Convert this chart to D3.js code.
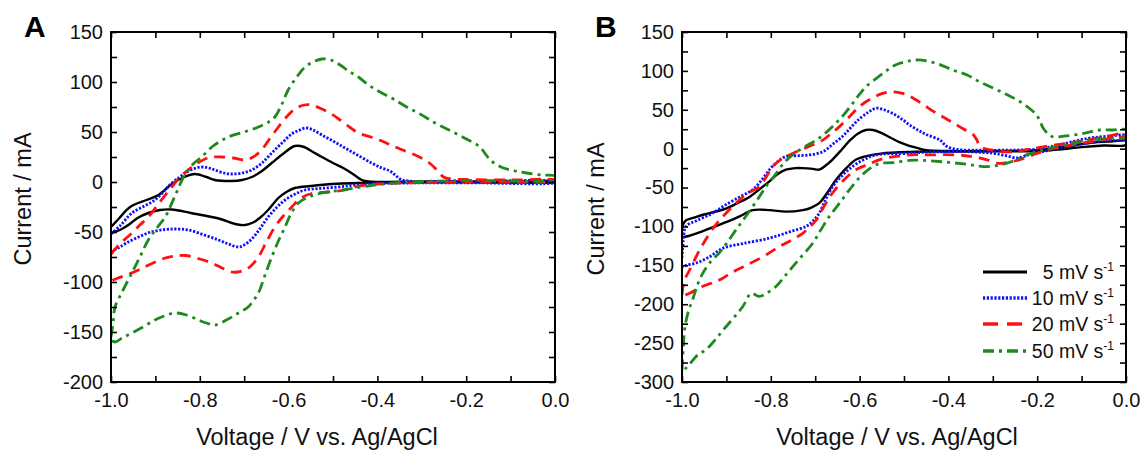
<!DOCTYPE html>
<html lang="en">
    <head>
    <meta charset="utf-8">
    <title>Cyclic voltammetry - scan rates</title>
    <script src="https://d3js.org/d3.v7.min.js"></script>
    <style type="text/css">
        body { margin: 0; background: #fff; }
        text { font-family: "Liberation Sans", Arial, sans-serif; fill: #111; }
        .panel { font-size: 30px; font-weight: bold; fill: #000; }
        .tick text { font-size: 20px; }
        .title { font-size: 23.5px; }
        .leg { font-size: 19.5px; }
    </style>
    </head>
    <body>
        <script type="text/javascript">

        //each curve is one CV loop: forward sweep -1.0 -> 0.0, then back to -1.0
        //values are [voltage (V), current (mA)]

        //panel A
        const A_5 = [[-1.0,-45],[-0.985,-38],[-0.957,-25],[-0.92,-18],[-0.893,-13],[-0.863,-2],[-0.835,5],[-0.811,8],[-0.785,5],[-0.766,2],[-0.728,1],[-0.705,2],[-0.683,5],[-0.66,11],[-0.638,19],[-0.61,29],[-0.586,36],[-0.565,35],[-0.545,30],[-0.525,25],[-0.5,19],[-0.473,13],[-0.452,7],[-0.435,2],[-0.42,0.5],[-0.3,0.5],[-0.1,0.5],[0,0.5],
            [0,0],[-0.2,-0.2],[-0.4,-0.5],[-0.5,-2],[-0.55,-4],[-0.586,-6],[-0.605,-10],[-0.623,-16],[-0.646,-28],[-0.665,-36],[-0.68,-40.5],[-0.698,-43],[-0.715,-42.5],[-0.728,-41],[-0.75,-37.5],[-0.773,-35],[-0.82,-31],[-0.863,-27.5],[-0.89,-28],[-0.916,-31],[-0.94,-36],[-0.961,-43],[-0.98,-48],[-1.0,-51]];

        const A_10 = [[-1.0,-52],[-0.98,-44],[-0.953,-31],[-0.925,-24],[-0.901,-18],[-0.88,-9],[-0.863,-1],[-0.845,5],[-0.833,9],[-0.815,13],[-0.796,15],[-0.78,14],[-0.766,12],[-0.745,9],[-0.728,8],[-0.705,9],[-0.683,12],[-0.66,19],[-0.638,29],[-0.615,39],[-0.593,48],[-0.575,52],[-0.56,54],[-0.545,52],[-0.525,47],[-0.5,41],[-0.473,34],[-0.445,27],[-0.413,19],[-0.39,14],[-0.372,11],[-0.36,7],[-0.349,3],[-0.33,1],[-0.2,0.5],[0,0.5],
            [0,-0.5],[-0.2,-0.8],[-0.4,-1.5],[-0.45,-3],[-0.488,-5],[-0.53,-6.5],[-0.563,-8],[-0.585,-12],[-0.608,-18],[-0.628,-26],[-0.646,-35],[-0.665,-47],[-0.683,-57],[-0.7,-63],[-0.713,-65],[-0.735,-62],[-0.758,-58],[-0.79,-53],[-0.826,-48],[-0.855,-47],[-0.878,-47.5],[-0.91,-50],[-0.938,-55],[-0.965,-61],[-0.984,-66],[-1.0,-69]];

        const A_20 = [[-1.0,-72],[-0.98,-62],[-0.953,-51],[-0.935,-43],[-0.916,-35],[-0.89,-20],[-0.863,-5],[-0.845,5],[-0.826,12],[-0.808,18],[-0.788,23],[-0.77,25],[-0.751,25],[-0.725,24],[-0.698,22],[-0.68,25],[-0.661,32],[-0.643,43],[-0.623,55],[-0.605,65],[-0.586,73],[-0.565,77],[-0.548,77],[-0.525,73],[-0.503,68],[-0.484,62],[-0.463,55],[-0.443,49],[-0.415,45],[-0.39,41],[-0.37,37],[-0.349,33],[-0.32,28],[-0.297,23],[-0.28,18],[-0.266,12],[-0.251,5],[-0.235,3],[-0.2,2.5],[-0.1,2],[0,2],
            [0,1],[-0.2,0],[-0.4,-2],[-0.45,-5],[-0.473,-8],[-0.51,-10],[-0.548,-11.5],[-0.572,-16],[-0.593,-25],[-0.612,-34],[-0.631,-45],[-0.65,-60],[-0.668,-75],[-0.685,-84],[-0.698,-88],[-0.715,-90],[-0.728,-90],[-0.75,-86],[-0.773,-81],[-0.8,-77],[-0.833,-73.5],[-0.855,-74],[-0.878,-76],[-0.91,-82],[-0.938,-88],[-0.965,-93],[-0.984,-96],[-1.0,-99]];

        const A_50 = [[-1.0,-155],[-0.995,-140],[-0.991,-125],[-0.975,-110],[-0.953,-91],[-0.935,-75],[-0.916,-58],[-0.895,-45],[-0.878,-35],[-0.855,-13],[-0.833,8],[-0.815,18],[-0.796,25],[-0.77,36],[-0.736,45],[-0.7,50],[-0.668,55],[-0.645,60],[-0.631,65],[-0.615,78],[-0.601,92],[-0.58,106],[-0.563,115],[-0.545,120],[-0.525,123],[-0.505,122],[-0.484,117],[-0.465,111],[-0.443,105],[-0.42,97],[-0.394,90],[-0.364,83],[-0.334,75],[-0.304,68],[-0.274,60],[-0.248,54],[-0.221,48],[-0.195,42],[-0.169,35],[-0.155,27],[-0.146,22],[-0.13,17],[-0.116,14],[-0.09,11],[-0.064,9],[-0.03,7],[0,6],
            [0,3],[-0.2,1.5],[-0.35,-0.5],[-0.428,-4.5],[-0.48,-8],[-0.525,-11],[-0.555,-15],[-0.578,-21],[-0.595,-32],[-0.608,-45],[-0.622,-58],[-0.638,-75],[-0.653,-93],[-0.668,-111],[-0.68,-119],[-0.691,-125],[-0.713,-131],[-0.74,-138],[-0.766,-143],[-0.785,-141],[-0.803,-138],[-0.83,-133],[-0.856,-131],[-0.88,-134],[-0.901,-138],[-0.928,-145],[-0.953,-151],[-0.975,-156],[-0.991,-160],[-1.0,-158]];

        //panel B
        const B_5 = [[-1.0,-110],[-0.998,-98],[-0.991,-92],[-0.975,-89],[-0.953,-85],[-0.925,-81],[-0.901,-77],[-0.875,-70],[-0.848,-62],[-0.825,-52],[-0.803,-42],[-0.785,-33],[-0.766,-27],[-0.745,-25],[-0.728,-25],[-0.705,-26],[-0.691,-27],[-0.675,-21],[-0.661,-14],[-0.64,-1],[-0.623,10],[-0.605,19],[-0.586,24],[-0.57,24],[-0.554,21],[-0.53,14],[-0.509,8],[-0.49,4],[-0.471,1],[-0.45,-2],[-0.4,-3],[-0.3,-3],[-0.2,-2],[-0.149,2],[-0.11,5],[-0.074,8],[-0.04,9],[0,10],
            [0,5],[-0.05,4],[-0.1,2],[-0.15,-1],[-0.2,-3],[-0.3,-3.5],[-0.4,-3.8],[-0.473,-4],[-0.548,-6],[-0.58,-9],[-0.608,-14],[-0.63,-25],[-0.653,-40],[-0.672,-56],[-0.691,-70],[-0.71,-76],[-0.728,-79],[-0.766,-81],[-0.803,-79],[-0.841,-79],[-0.863,-85],[-0.885,-91],[-0.908,-96],[-0.93,-101],[-0.953,-106],[-0.983,-112],[-1.0,-114]];

        const B_10 = [[-1.0,-140],[-0.997,-118],[-0.991,-100],[-0.965,-92],[-0.938,-85],[-0.92,-79],[-0.901,-72],[-0.87,-62],[-0.841,-53],[-0.82,-40],[-0.803,-27],[-0.785,-17],[-0.766,-10],[-0.74,-9],[-0.713,-8],[-0.683,-4],[-0.66,6],[-0.638,16],[-0.62,27],[-0.601,38],[-0.58,47],[-0.563,52],[-0.545,50],[-0.525,45],[-0.505,38],[-0.486,30],[-0.466,23],[-0.449,18],[-0.419,11],[-0.404,3],[-0.38,-1],[-0.33,-2],[-0.28,-2],[-0.2,-0.5],[-0.149,5],[-0.089,13],[-0.04,16],[0,17],
            [0,12],[-0.05,10],[-0.1,6],[-0.149,1],[-0.18,-3],[-0.209,-6],[-0.23,-10],[-0.246,-12],[-0.27,-9],[-0.299,-6],[-0.35,-4],[-0.45,-4.5],[-0.488,-6],[-0.563,-8],[-0.59,-14],[-0.616,-23],[-0.64,-35],[-0.661,-49],[-0.677,-66],[-0.691,-83],[-0.705,-93],[-0.721,-100],[-0.758,-107],[-0.803,-115],[-0.863,-122],[-0.908,-128],[-0.938,-139],[-0.968,-147],[-0.991,-150],[-1.0,-152]];

        const B_20 = [[-1.0,-188],[-0.995,-170],[-0.983,-156],[-0.96,-130],[-0.938,-109],[-0.92,-95],[-0.901,-83],[-0.88,-71],[-0.863,-62],[-0.845,-55],[-0.826,-49],[-0.81,-36],[-0.796,-23],[-0.775,-13],[-0.758,-8],[-0.735,-2],[-0.713,3],[-0.683,11],[-0.665,19],[-0.646,28],[-0.623,41],[-0.601,54],[-0.575,64],[-0.548,71],[-0.524,73],[-0.503,71],[-0.486,67],[-0.46,58],[-0.434,48],[-0.41,40],[-0.389,33],[-0.365,25],[-0.344,18],[-0.335,10],[-0.329,3],[-0.3,-2],[-0.254,-4],[-0.22,-1],[-0.18,3],[-0.13,7],[-0.089,11],[-0.04,16],[0,20],
            [0,17],[-0.05,12],[-0.089,8],[-0.14,3],[-0.18,-2],[-0.21,-8],[-0.239,-14],[-0.26,-17],[-0.284,-19],[-0.315,-14],[-0.35,-10],[-0.383,-8],[-0.45,-8],[-0.486,-8],[-0.548,-13],[-0.58,-20],[-0.608,-27],[-0.635,-40],[-0.661,-57],[-0.68,-74],[-0.698,-92],[-0.715,-102],[-0.728,-109],[-0.755,-118],[-0.781,-126],[-0.818,-139],[-0.863,-152],[-0.89,-160],[-0.916,-169],[-0.953,-177],[-0.983,-186],[-1.0,-190]];

        const B_50 = [[-1.0,-285],[-0.997,-255],[-0.993,-228],[-0.985,-208],[-0.976,-194],[-0.965,-175],[-0.953,-160],[-0.935,-145],[-0.916,-134],[-0.9,-122],[-0.878,-104],[-0.85,-82],[-0.826,-62],[-0.81,-48],[-0.788,-32],[-0.77,-18],[-0.751,-8],[-0.725,2],[-0.698,11],[-0.675,21],[-0.653,33],[-0.635,44],[-0.616,58],[-0.6,70],[-0.585,80],[-0.563,90],[-0.54,100],[-0.518,108],[-0.495,112],[-0.473,114],[-0.45,113],[-0.419,108],[-0.39,101],[-0.359,95],[-0.33,86],[-0.299,78],[-0.27,70],[-0.246,63],[-0.22,53],[-0.201,43],[-0.192,33],[-0.186,26],[-0.175,19],[-0.164,15],[-0.14,16],[-0.112,18],[-0.085,21],[-0.059,24],[-0.03,24],[0,24],
            [0,15],[-0.04,13],[-0.089,11],[-0.125,6],[-0.164,2],[-0.195,-3],[-0.224,-8],[-0.25,-15],[-0.284,-21],[-0.321,-23],[-0.36,-20],[-0.411,-17],[-0.458,-15],[-0.486,-15],[-0.525,-18],[-0.554,-19],[-0.578,-26],[-0.6,-37],[-0.623,-53],[-0.645,-70],[-0.668,-87],[-0.688,-105],[-0.706,-122],[-0.73,-138],[-0.751,-152],[-0.77,-165],[-0.788,-177],[-0.81,-186],[-0.826,-190],[-0.844,-186],[-0.863,-203],[-0.88,-215],[-0.901,-229],[-0.92,-242],[-0.938,-254],[-0.955,-262],[-0.968,-267],[-0.98,-275],[-0.991,-282],[-1.0,-290]];

        //series names / legend labels (scan rates)
        const rates = ["5", "10", "20", "50"];
        const xLabel = "Voltage / V vs. Ag/AgCl";
        const yLabel = "Current / mA";

        //line styles per scan rate
        const styles = [
            {color: "#000000", width: 2.4, dash: null},
            {color: "#1010ff", width: 2.8, dash: "2.2,1.6"},
            {color: "#ff1010", width: 2.8, dash: "11,7"},
            {color: "#1e8a1e", width: 2.8, dash: "11,5,3,5"}
        ];

        //svg information
        const width = 1142;
        const height = 450;
        const svg = d3.select("body")
                      .append("svg")
                      .attr("width", width)
                      .attr("height", height);

        svg.append("rect").attr("width", width).attr("height", height).attr("fill", "#fff");

        const fmt = v => Math.abs(v) < 1e-9 ? "0.0" : v.toFixed(1);

        function panel(opts) {
            const {left, right, top, bottom, yDomain, curves, letter, letterX, yTitleX, yTitleY, xTitleX} = opts;

            const x = d3.scaleLinear().domain([-1, 0]).range([left, right]);
            const y = d3.scaleLinear().domain(yDomain).range([bottom, top]);

            const xt = x.ticks(10);
            const yt = d3.range(yDomain[0], yDomain[1] + 1, 25);

            const xLab = v => Math.round(Math.abs(v) * 10) % 2 === 0 ? fmt(v) : "";
            const yLab = v => v % 50 === 0 ? String(v) : "";

            const g = svg.append("g");

            //clip curves to the plot box
            const clipId = "clip" + letter;
            svg.append("clipPath").attr("id", clipId)
               .append("rect").attr("x", left).attr("y", top)
               .attr("width", right - left).attr("height", bottom - top);

            const line = d3.line()
                           .x(d => x(d[0]))
                           .y(d => y(d[1]))
                           .curve(d3.curveCatmullRom.alpha(0.5));

            g.append("g").attr("clip-path", "url(#" + clipId + ")")
             .selectAll("path")
             .data(curves)
             .join("path")
             .attr("d", d => line(d))
             .attr("fill", "none")
             .attr("stroke", (d, i) => styles[i].color)
             .attr("stroke-width", (d, i) => styles[i].width)
             .attr("stroke-dasharray", (d, i) => styles[i].dash)
             .attr("stroke-linejoin", "round");

            //axes, ticks pointing inward on all four sides
            const ax = [
                d3.axisBottom(x).tickValues(xt).tickFormat(xLab).tickPadding(11),
                d3.axisTop(x).tickValues(xt).tickFormat(""),
                d3.axisLeft(y).tickValues(yt).tickFormat(yLab).tickPadding(8),
                d3.axisRight(y).tickValues(yt).tickFormat("")
            ];
            const pos = [[0, bottom], [0, top], [left, 0], [right, 0]];
            ax.forEach((a, i) => {
                a.tickSizeInner(-6).tickSizeOuter(0);
                const ag = g.append("g")
                            .attr("transform", "translate(" + pos[i][0] + "," + pos[i][1] + ")")
                            .call(a);
                ag.select(".domain").remove();
                ag.selectAll("line").attr("stroke", "#000").attr("stroke-width", 1.6);
                ag.selectAll("text").attr("fill", "#111").attr("font-family", null).attr("font-size", null);
            });

            //frame
            g.append("rect")
             .attr("x", left).attr("y", top)
             .attr("width", right - left).attr("height", bottom - top)
             .attr("fill", "none").attr("stroke", "#000").attr("stroke-width", 2);

            //titles
            g.append("text").attr("class", "title")
             .attr("x", xTitleX).attr("y", 445)
             .attr("text-anchor", "middle")
             .text(xLabel);

            g.append("text").attr("class", "title")
             .attr("transform", "translate(" + yTitleX + "," + yTitleY + ") rotate(-90)")
             .attr("text-anchor", "middle")
             .text(yLabel);

            g.append("text").attr("class", "panel")
             .attr("x", letterX).attr("y", 37)
             .text(letter);

            return {x, y, g};
        }

        panel({left: 111, right: 555, top: 32, bottom: 382, yDomain: [-200, 150],
               curves: [A_5, A_10, A_20, A_50], letter: "A", letterX: 24,
               yTitleX: 31, yTitleY: 199, xTitleX: 317});

        const pB = panel({left: 682, right: 1126, top: 32, bottom: 382, yDomain: [-300, 150],
               curves: [B_5, B_10, B_20, B_50], letter: "B", letterX: 595,
               yTitleX: 604, yTitleY: 209, xTitleX: 897});

        //legend (panel B)
        const leg = pB.g.append("g");
        const rowY = [272, 298, 324, 351];
        rates.forEach((r, i) => {
            leg.append("line")
               .attr("x1", 983).attr("x2", 1027)
               .attr("y1", rowY[i]).attr("y2", rowY[i])
               .attr("stroke", styles[i].color)
               .attr("stroke-width", styles[i].width + 0.6)
               .attr("stroke-dasharray", i === 2 ? "15,9" : styles[i].dash);
            const t = leg.append("text").attr("class", "leg")
                         .attr("x", 1114).attr("y", rowY[i] + 7)
                         .attr("text-anchor", "end");
            t.append("tspan").text(r + " mV s");
            t.append("tspan").attr("font-size", 12).attr("dy", -8).text("-1");
        });

        </script>
    </body>
</html>
